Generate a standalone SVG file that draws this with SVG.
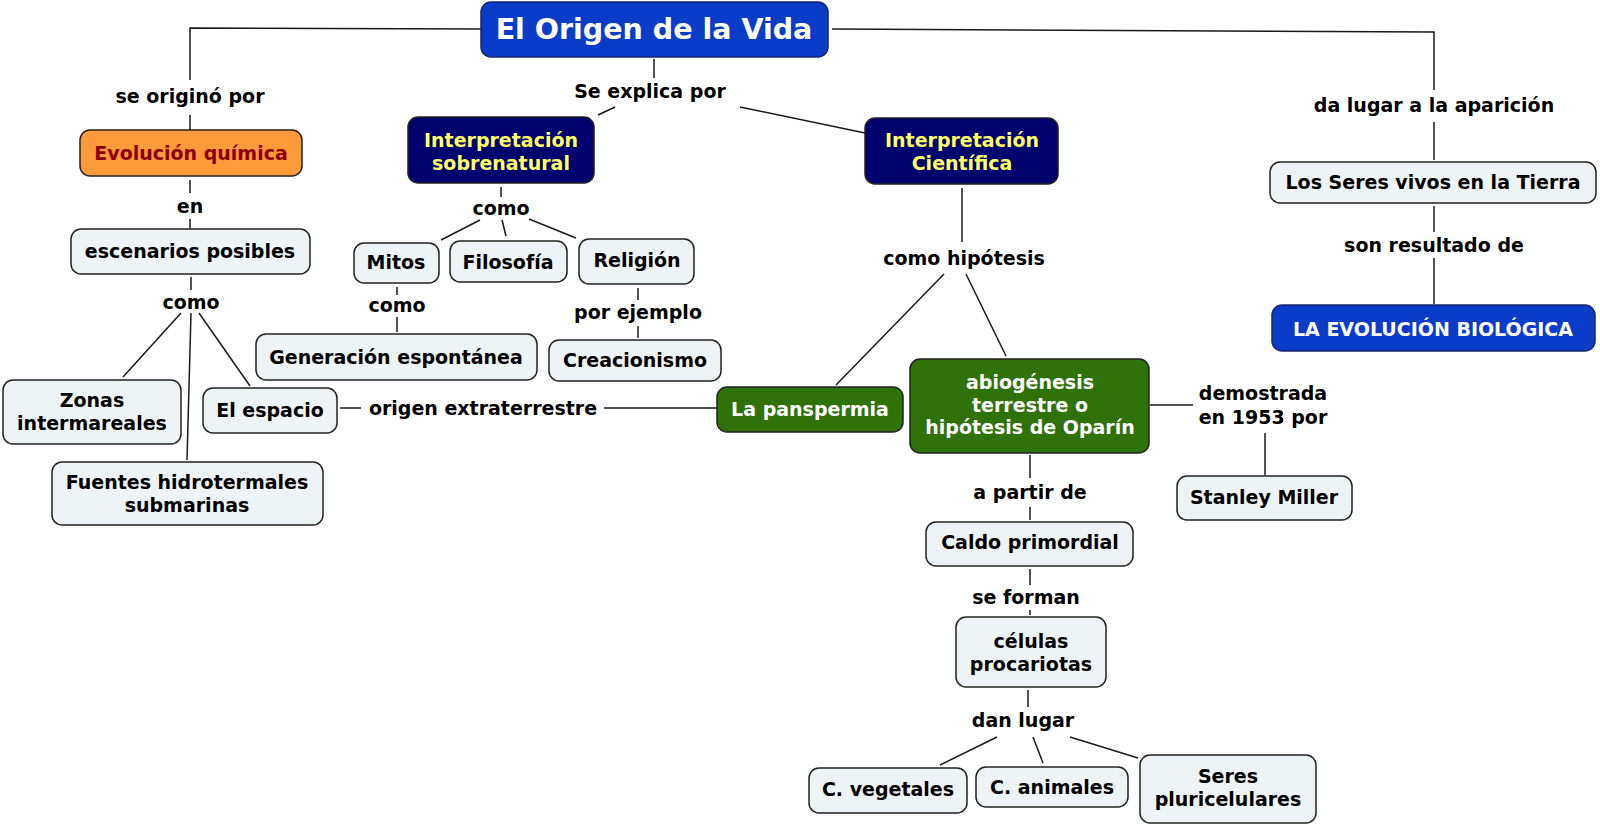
<svg xmlns="http://www.w3.org/2000/svg" width="1600" height="826" viewBox="0 0 1600 826">
<style>
text{font-family:"DejaVu Sans","Verdana",sans-serif;font-weight:bold;font-size:19px;text-anchor:middle;dominant-baseline:central}
.n rect{fill:#eef3f5;stroke:#222;stroke-width:1.5}
.blue rect{fill:#0b3cc8;stroke:#1a2470;stroke-width:1.5}
.blue text{fill:#fff}
.navy rect{fill:#00006e;stroke:#222;stroke-width:1.5}
.navy text{fill:#ffff66}
.green rect{fill:#2f720a;stroke:#222;stroke-width:1.5}
.green text{fill:#fff}
.orange rect{fill:#ff9a3a;stroke:#222;stroke-width:1.5}
.orange text{fill:#8b0000}
.lbl{fill:#000}
#conn line,#conn polyline{stroke:#1a1a1a;stroke-width:1.5;fill:none}
</style>
<rect width="1600" height="826" fill="#fff"/>
<g id="conn">
<polyline points="481,29 190,28 190,80"/>
<line x1="190" y1="115" x2="190" y2="130"/>
<line x1="190" y1="180" x2="190" y2="193"/>
<line x1="190" y1="219" x2="190" y2="229"/>
<line x1="191" y1="277" x2="191" y2="290"/>
<line x1="181" y1="313" x2="123" y2="377"/>
<line x1="191" y1="313" x2="187" y2="460"/>
<line x1="199" y1="313" x2="250" y2="386"/>
<line x1="340" y1="408" x2="361" y2="408"/>
<line x1="604" y1="408" x2="717" y2="408"/>
<line x1="654" y1="59" x2="654" y2="78"/>
<line x1="615" y1="107" x2="598" y2="115"/>
<line x1="740" y1="107" x2="865" y2="133"/>
<line x1="501" y1="187" x2="501" y2="197"/>
<line x1="480" y1="220" x2="441" y2="240"/>
<line x1="502" y1="220" x2="506" y2="236"/>
<line x1="529" y1="219" x2="576" y2="238"/>
<line x1="397" y1="287" x2="397" y2="295"/>
<line x1="397" y1="317" x2="397" y2="332"/>
<line x1="638" y1="288" x2="638" y2="300"/>
<line x1="638" y1="326" x2="638" y2="338"/>
<line x1="962" y1="188" x2="962" y2="242"/>
<line x1="944" y1="274" x2="836" y2="385"/>
<line x1="966" y1="274" x2="1006" y2="356"/>
<polyline points="832,29 1434,32 1434,90"/>
<line x1="1434" y1="122" x2="1434" y2="160"/>
<line x1="1434" y1="206" x2="1434" y2="232"/>
<line x1="1434" y1="258" x2="1434" y2="304"/>
<line x1="1150" y1="405" x2="1193" y2="405"/>
<line x1="1265" y1="433" x2="1265" y2="475"/>
<line x1="1030" y1="455" x2="1030" y2="478"/>
<line x1="1030" y1="507" x2="1030" y2="520"/>
<line x1="1030" y1="569" x2="1030" y2="585"/>
<line x1="1030" y1="610" x2="1030" y2="615"/>
<line x1="1028" y1="690" x2="1028" y2="707"/>
<line x1="997" y1="737" x2="940" y2="765"/>
<line x1="1033" y1="737" x2="1043" y2="763"/>
<line x1="1070" y1="737" x2="1138" y2="758"/>
</g>
<g id="labels">
<text class="lbl" x="190" y="96">se originó por</text>
<text class="lbl" x="190" y="206">en</text>
<text class="lbl" x="191" y="302">como</text>
<text class="lbl" x="483" y="408">origen extraterrestre</text>
<text class="lbl" x="650" y="91">Se explica por</text>
<text class="lbl" x="501" y="208">como</text>
<text class="lbl" x="397" y="305">como</text>
<text class="lbl" x="638" y="312">por ejemplo</text>
<text class="lbl" x="964" y="258">como hipótesis</text>
<text class="lbl" x="1434" y="105">da lugar a la aparición</text>
<text class="lbl" x="1434" y="245">son resultado de</text>
<text class="lbl" x="1263" y="393">demostrada</text>
<text class="lbl" x="1263" y="417">en 1953 por</text>
<text class="lbl" x="1030" y="492">a partir de</text>
<text class="lbl" x="1026" y="597">se forman</text>
<text class="lbl" x="1023" y="720">dan lugar</text>
</g>
<g id="title" class="blue"><rect x="481" y="2" width="347" height="55" rx="10"/><text x="654" y="29" style="font-size:28.5px">El Origen de la Vida</text></g>
<g id="evolucion-quimica" class="orange"><rect x="80" y="130" width="222" height="46" rx="10"/><text x="191" y="153">Evolución química</text></g>
<g id="escenarios" class="n"><rect x="71" y="229" width="239" height="45" rx="10"/><text x="190" y="251">escenarios posibles</text></g>
<g id="zonas" class="n"><rect x="3" y="380" width="178" height="64" rx="10"/><text x="92" y="400">Zonas</text><text x="92" y="423">intermareales</text></g>
<g id="espacio" class="n"><rect x="203" y="388" width="134" height="45" rx="10"/><text x="270" y="410">El espacio</text></g>
<g id="fuentes" class="n"><rect x="52" y="462" width="271" height="63" rx="10"/><text x="187" y="482">Fuentes hidrotermales</text><text x="187" y="505">submarinas</text></g>
<g id="sobrenatural" class="navy"><rect x="408" y="117" width="186" height="66" rx="10"/><text x="501" y="140">Interpretación</text><text x="501" y="163">sobrenatural</text></g>
<g id="mitos" class="n"><rect x="354" y="243" width="85" height="40" rx="10"/><text x="396" y="262">Mitos</text></g>
<g id="filosofia" class="n"><rect x="450" y="241" width="117" height="41" rx="10"/><text x="508" y="262">Filosofía</text></g>
<g id="religion" class="n"><rect x="579" y="239" width="115" height="45" rx="10"/><text x="637" y="260">Religión</text></g>
<g id="generacion" class="n"><rect x="256" y="334" width="281" height="46" rx="10"/><text x="396" y="357">Generación espontánea</text></g>
<g id="creacionismo" class="n"><rect x="549" y="340" width="172" height="41" rx="10"/><text x="635" y="360">Creacionismo</text></g>
<g id="cientifica" class="navy"><rect x="865" y="118" width="193" height="66" rx="10"/><text x="962" y="140">Interpretación</text><text x="962" y="163">Científica</text></g>
<g id="panspermia" class="green"><rect x="717" y="387" width="186" height="45" rx="10"/><text x="810" y="409">La panspermia</text></g>
<g id="abiogenesis" class="green"><rect x="910" y="359" width="239" height="94" rx="10"/><text x="1030" y="382">abiogénesis</text><text x="1030" y="405">terrestre o</text><text x="1030" y="427">hipótesis de Oparín</text></g>
<g id="miller" class="n"><rect x="1177" y="476" width="175" height="44" rx="10"/><text x="1264" y="497">Stanley Miller</text></g>
<g id="caldo" class="n"><rect x="926" y="522" width="207" height="44" rx="10"/><text x="1030" y="542">Caldo primordial</text></g>
<g id="celulas" class="n"><rect x="956" y="617" width="150" height="70" rx="10"/><text x="1031" y="641">células</text><text x="1031" y="664">procariotas</text></g>
<g id="vegetales" class="n"><rect x="809" y="768" width="158" height="45" rx="10"/><text x="888" y="789">C. vegetales</text></g>
<g id="animales" class="n"><rect x="976" y="767" width="152" height="40" rx="10"/><text x="1052" y="787">C. animales</text></g>
<g id="pluricelulares" class="n"><rect x="1140" y="755" width="176" height="68" rx="10"/><text x="1228" y="776">Seres</text><text x="1228" y="799">pluricelulares</text></g>
<g id="seres-vivos" class="n"><rect x="1270" y="162" width="326" height="41" rx="10"/><text x="1433" y="182">Los Seres vivos en la Tierra</text></g>
<g id="evolucion-biologica" class="blue"><rect x="1272" y="305" width="323" height="46" rx="10"/><text x="1433" y="329">LA EVOLUCIÓN BIOLÓGICA</text></g>
</svg>
